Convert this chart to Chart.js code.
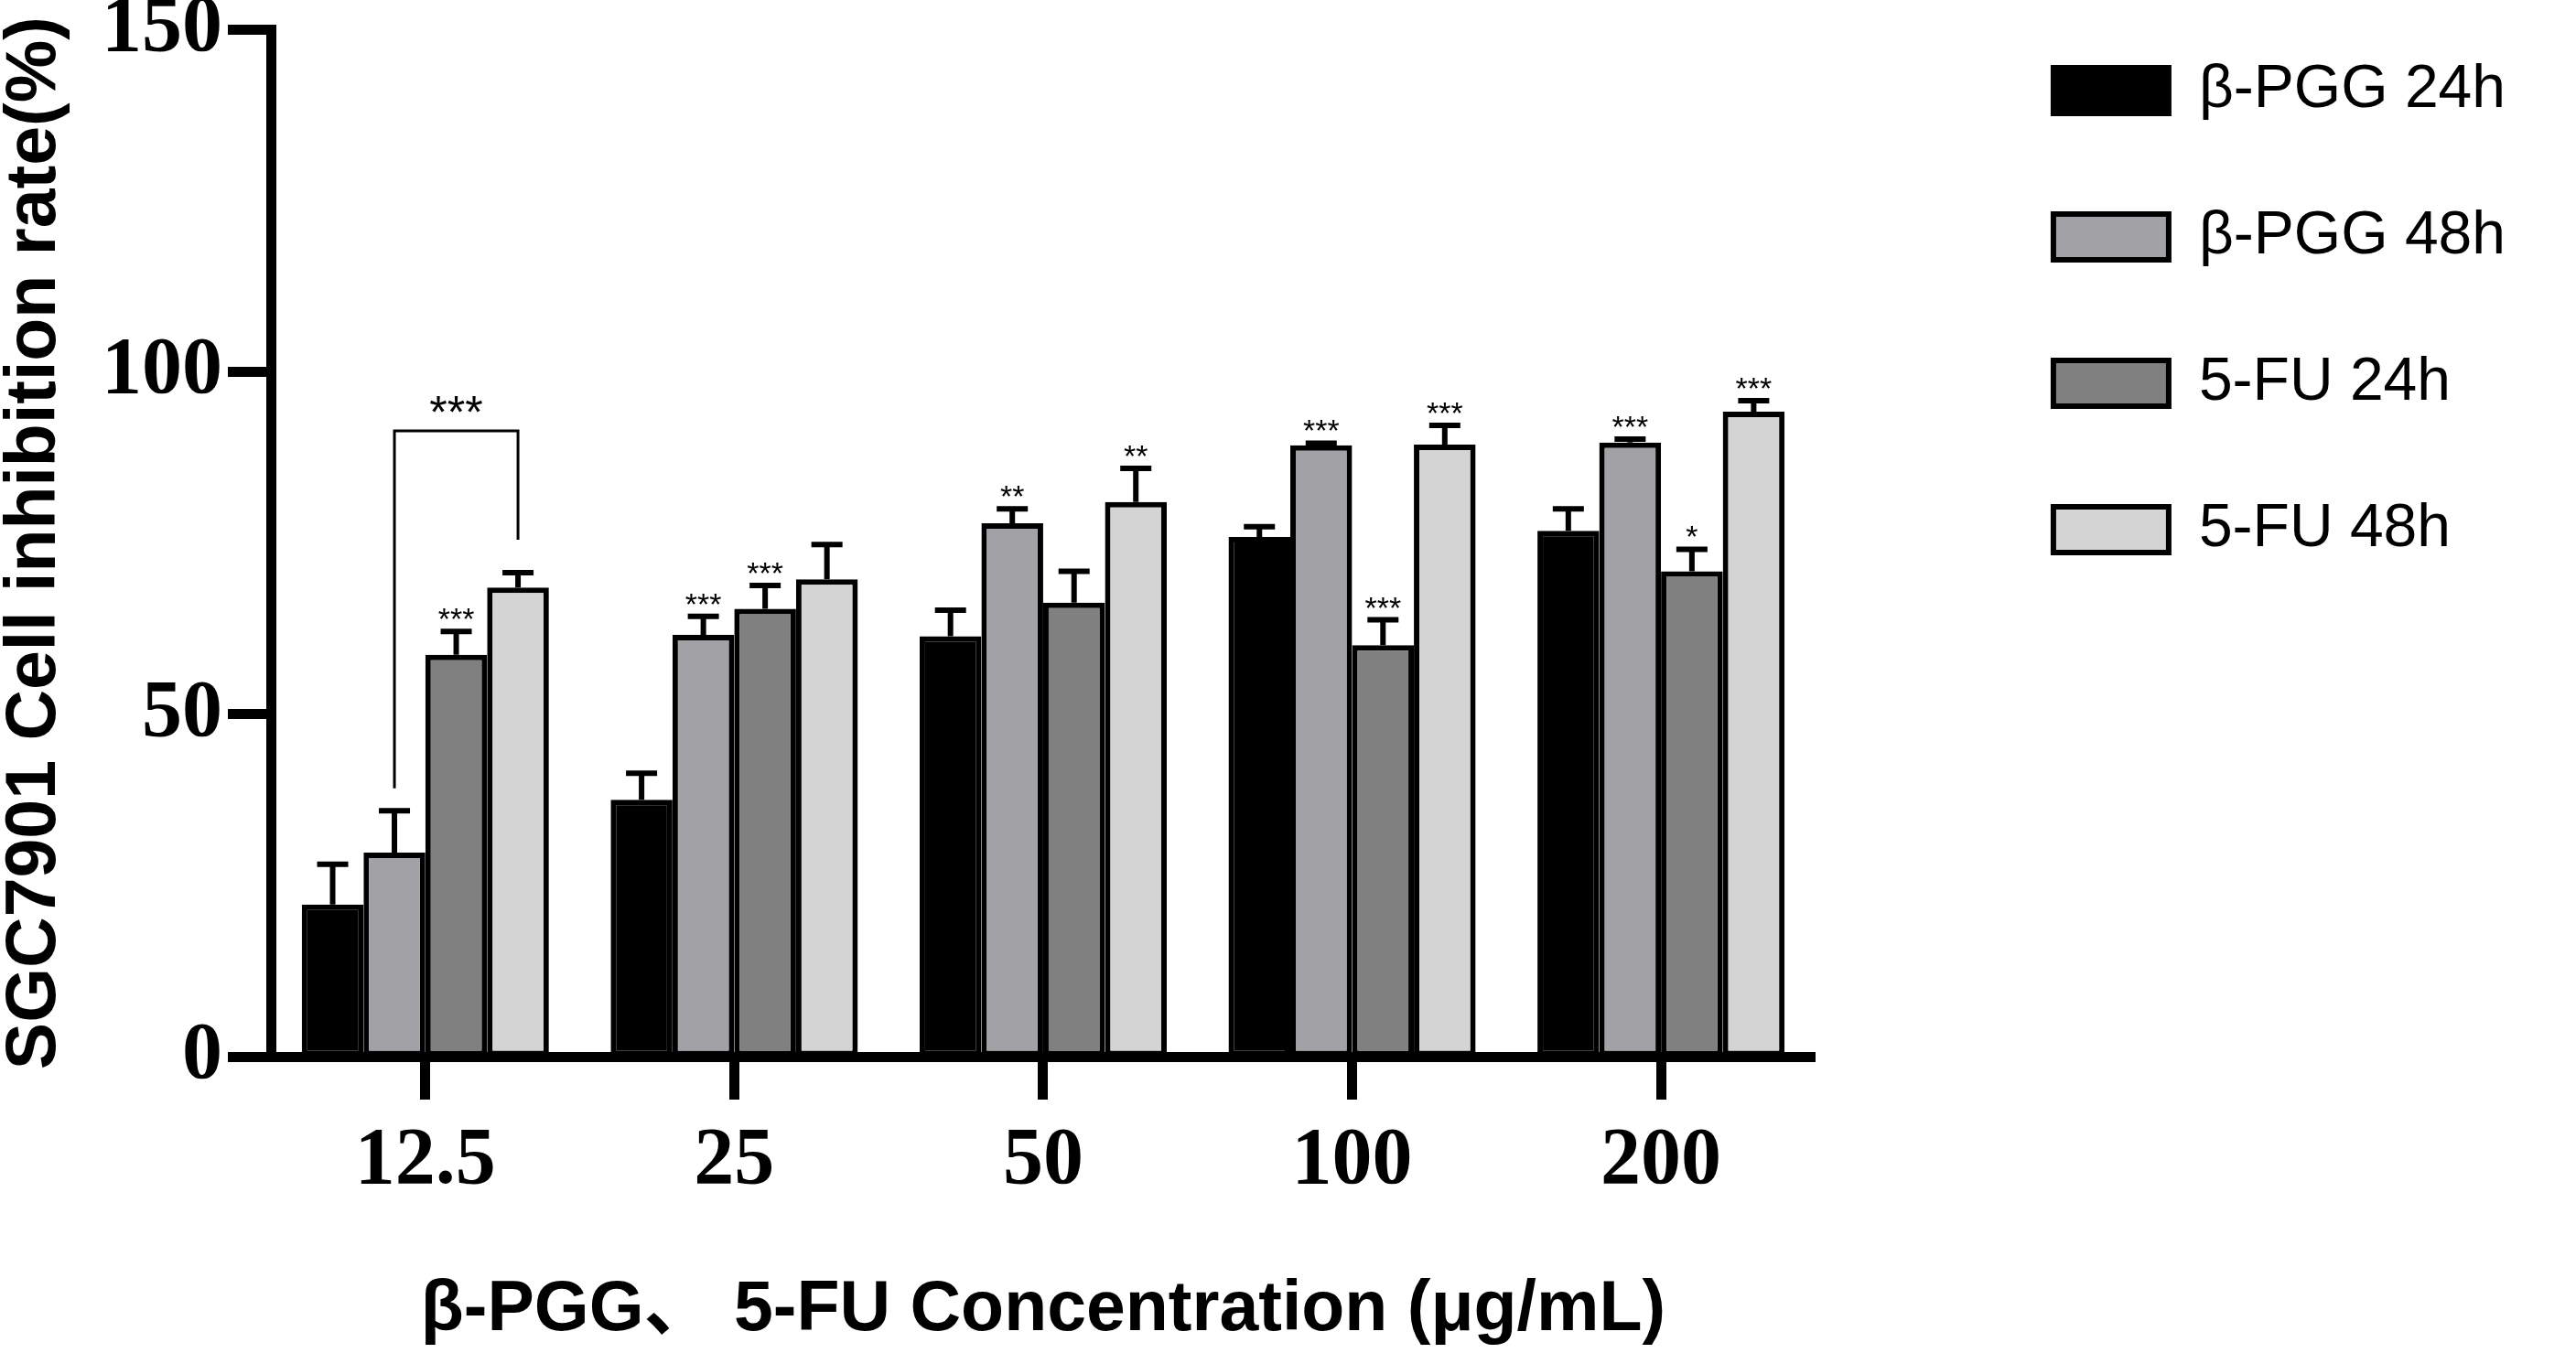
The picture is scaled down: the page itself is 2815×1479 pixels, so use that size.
<!DOCTYPE html>
<html>
<head>
<meta charset="utf-8">
<script src="https://cdn.jsdelivr.net/npm/chart.js@4"></script>
<style>
  html, body { margin: 0; padding: 0; background: #fff; }
  #wrap { width: 2815px; height: 1479px; }
</style>
</head>
<body>
<div id="wrap"><canvas id="chart"></canvas></div>
<script>
'use strict';

var concentrations = ['12.5', '25', '50', '100', '200'];
var seriesNames = ['β-PGG 24h', 'β-PGG 48h', '5-FU 24h', '5-FU 48h'];

// mean inhibition rate (%)
var pgg24 = [22.2, 37.5, 61.4, 75.9, 76.8];
var pgg48 = [29.8, 61.6, 77.9, 89.3, 89.7];
var fu24 = [58.7, 65.4, 66.3, 60.1, 70.9];
var fu48 = [68.5, 69.7, 81.0, 89.4, 94.2];

// upper error (SD)
var pgg24Err = [5.9, 3.9, 3.8, 1.5, 3.2];
var pgg48Err = [6.1, 2.7, 2.1, 0.3, 0.5];
var fu24Err = [3.4, 3.4, 4.6, 3.7, 3.2];
var fu48Err = [2.2, 5.1, 4.9, 2.8, 1.6];

// significance marks
var pgg24Stars = ['', '', '', '', ''];
var pgg48Stars = ['', '***', '**', '***', '***'];
var fu24Stars = ['***', '***', '', '***', '*'];
var fu48Stars = ['', '', '**', '***', '***'];

var yTicks = [0, 50, 100, 150];

// bracket between β-PGG 48h and 5-FU 48h at 12.5
var bracketCategory = 0;
var bracketFrom = 1;
var bracketTo = 3;
var bracketValues = [39.2, 91.4, 75.5];
var bracketLabel = '***';

var colors = ['#000000', '#a2a1a6', '#808080', '#d4d4d4'];
var allValues = [pgg24, pgg48, fu24, fu48];
var allErrors = [pgg24Err, pgg48Err, fu24Err, fu48Err];
var allStars = [pgg24Stars, pgg48Stars, fu24Stars, fu48Stars];

var datasets = [];
for (var i = 0; i < seriesNames.length; i++) {
  datasets.push({
    label: seriesNames[i],
    data: allValues[i],
    errors: allErrors[i],
    stars: allStars[i],
    backgroundColor: colors[i],
    borderColor: '#000',
    borderWidth: 6,
    borderSkipped: false,
    categoryPercentage: 0.8,
    barPercentage: 1.0
  });
}

var errorBars = {
  id: 'errorBars',
  afterDatasetsDraw: function(chart) {
    var ctx = chart.ctx;
    var y = chart.scales.y;
    ctx.save();
    ctx.strokeStyle = '#000';
    ctx.fillStyle = '#000';
    ctx.textAlign = 'center';
    ctx.textBaseline = 'alphabetic';
    chart.data.datasets.forEach(function(ds, i) {
      var meta = chart.getDatasetMeta(i);
      meta.data.forEach(function(bar, j) {
        var top = y.getPixelForValue(ds.data[j] + ds.errors[j]);
        ctx.lineWidth = 6;
        ctx.beginPath();
        ctx.moveTo(bar.x, bar.y);
        ctx.lineTo(bar.x, top);
        ctx.moveTo(bar.x - 17, top);
        ctx.lineTo(bar.x + 17, top);
        ctx.stroke();
        if (ds.stars[j]) {
          ctx.font = '34px "Liberation Sans"';
          ctx.fillText(ds.stars[j], bar.x, top - 2);
        }
      });
    });

    // comparison bracket
    var x1 = chart.getDatasetMeta(bracketFrom).data[bracketCategory].x;
    var x2 = chart.getDatasetMeta(bracketTo).data[bracketCategory].x;
    var yTop = y.getPixelForValue(bracketValues[1]);
    ctx.lineWidth = 3;
    ctx.beginPath();
    ctx.moveTo(x1, y.getPixelForValue(bracketValues[0]));
    ctx.lineTo(x1, yTop);
    ctx.lineTo(x2, yTop);
    ctx.lineTo(x2, y.getPixelForValue(bracketValues[2]));
    ctx.stroke();
    ctx.font = '50px "Liberation Sans"';
    ctx.fillText(bracketLabel, (x1 + x2) / 2, yTop - 3);
    ctx.restore();
  }
};

// pull the legend up a little so the first row sits near the top
var legendShift = {
  id: 'legendShift',
  afterLayout: function(chart) {
    if (chart.legend) {
      chart.legend.top -= 28;
      chart.legend.bottom -= 28;
    }
  }
};

var ctx = document.getElementById('chart').getContext('2d');

var chart = new Chart(ctx, {
  type: 'bar',
  data: {
    labels: concentrations,
    datasets: datasets
  },
  plugins: [errorBars, legendShift],
  options: {
    responsive: true,
    maintainAspectRatio: false,
    animation: false,
    layout: { padding: { left: 0, right: 67, top: 0, bottom: 0 } },
    plugins: {
      tooltip: { enabled: false },
      legend: {
        position: 'right',
        align: 'start',
        maxWidth: 900,
        labels: {
          boxWidth: 126,
          boxHeight: 50,
          padding: 94,
          color: '#000',
          font: { family: '"Liberation Sans"', size: 66 }
        }
      }
    },
    scales: {
      x: {
        grid: {
          display: true,
          drawOnChartArea: false,
          offset: false,
          tickLength: 47,
          tickWidth: 11,
          tickColor: '#000'
        },
        border: { display: true, color: '#000', width: 11 },
        ticks: {
          color: '#000',
          padding: 15,
          font: { family: '"Liberation Serif"', weight: 'bold', size: 88 }
        },
        title: {
          display: true,
          text: 'β-PGG、 5-FU Concentration (μg/mL)',
          color: '#000',
          padding: { top: 0, bottom: 0 },
          font: { family: '"Liberation Sans", "Noto Sans CJK SC"', weight: 'bold', size: 77 }
        },
        afterFit: function(axis) { axis.height = 324; }
      },
      y: {
        min: 0,
        max: 150,
        afterBuildTicks: function(axis) {
          axis.ticks = yTicks.map(function(v) { return { value: v }; });
        },
        grid: {
          display: true,
          drawOnChartArea: false,
          tickLength: 47,
          tickWidth: 11,
          tickColor: '#000'
        },
        border: { display: true, color: '#000', width: 11 },
        ticks: {
          color: '#000',
          padding: 6,
          font: { family: '"Liberation Serif"', weight: 'bold', size: 88, lineHeight: 0.6 }
        },
        title: {
          display: true,
          text: 'SGC7901 Cell inhibition rate(%)',
          color: '#000',
          padding: 0,
          font: { family: '"Liberation Sans"', weight: 'bold', size: 77, lineHeight: 1 }
        },
        afterFit: function(axis) { axis.width = 296; }
      },
      // empty spacer between the plot and the legend
      gap: {
        type: 'linear',
        position: 'right',
        display: true,
        grid: { display: false },
        border: { display: false },
        ticks: { display: false },
        afterFit: function(axis) { axis.width = 166; }
      }
    }
  }
});
</script>
</body>
</html>
